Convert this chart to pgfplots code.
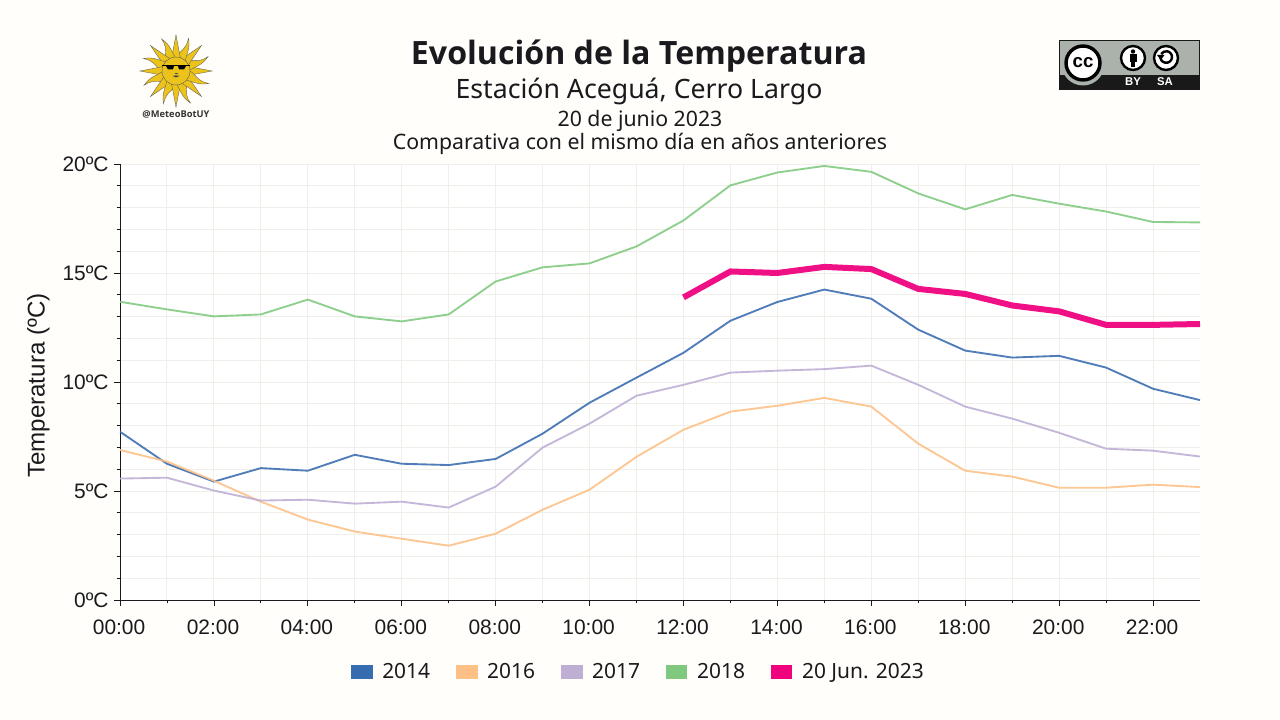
\documentclass[border=0pt]{standalone}
\usepackage{fontspec}
\setmainfont{Liberation Sans}
\newfontfamily\noto{Noto Sans}
\newfontfamily\notob{Open Sans}
\usepackage{pgfplots}
\pgfplotsset{compat=1.18}
\definecolor{pagebg}{HTML}{FFFEFA}
\definecolor{gridc}{HTML}{F0EFEA}
\definecolor{ink}{HTML}{1A1A1E}
\definecolor{c14}{HTML}{386CB0}
\definecolor{c16}{HTML}{FDC086}
\definecolor{c17}{HTML}{BEAED4}
\definecolor{c18}{HTML}{7FC97F}
\definecolor{c23}{HTML}{F0027F}
\definecolor{sunc}{HTML}{EBC31B}
\definecolor{ccgrey}{HTML}{AAB2AB}

\begin{document}
\begin{tikzpicture}[x=1pt,y=1pt]
\path[fill=pagebg] (0,0) rectangle (960,540);

\begin{axis}[
  at={(90pt,90pt)}, anchor=south west,
  scale only axis, width=810pt, height=327pt,
  xmin=0, xmax=23, ymin=0, ymax=20,
  axis background/.style={fill=white},
  axis x line*=bottom, axis y line*=left,
  axis line style={-, color=ink, line width=0.7pt},
  xtick={0,2,...,22},
  xticklabels={00:00,02:00,04:00,06:00,08:00,10:00,12:00,14:00,16:00,18:00,20:00,22:00},
  ytick={0,5,10,15,20},
  yticklabels={0ºC,5ºC,10ºC,15ºC,20ºC},
  minor x tick num=1, minor y tick num=4,
  grid=both,
  major grid style={gridc, line width=0.7pt},
  minor grid style={gridc, line width=0.7pt},
  tick style={ink, line width=0.6pt},
  major tick length=4.5pt, minor tick length=2.5pt,
  tick align=outside,
  tick label style={font=\fontsize{15.7}{18}\selectfont, text=ink},
  x tick label style={yshift=-7pt, xshift=-0.7pt},
  y tick label style={xshift=-0.5pt},
  ylabel={Temperatura (ºC)},
  ylabel style={font=\fontsize{18.1}{22}\selectfont, text=ink, at={(axis description cs:-0.0755,0.4915)}, anchor=center},
  legend columns=5,
  legend style={at={(0.4772,-0.165)}, anchor=center, draw=none, fill=none,
    font=\noto\fontsize{15.7}{18}\selectfont, text=ink,
    /tikz/every even column/.append style={column sep=12.3pt}},
  legend image code/.code={\draw[#1,line width=10.5pt,opacity=1] (0pt,0pt) -- (16pt,0pt);},
]
\addplot[c14, line width=1.4pt, opacity=0.88] coordinates {
(0,7.72)(1,6.25)(2,5.43)(3,6.05)(4,5.93)(5,6.66)(6,6.25)(7,6.19)(8,6.47)(9,7.63)(10,9.05)(11,10.2)
(12,11.34)(13,12.81)(14,13.67)(15,14.24)(16,13.82)(17,12.4)(18,11.44)(19,11.12)(20,11.2)(21,10.66)(22,9.69)(23,9.17)};
\addlegendentry{2014}
\addplot[c16, line width=1.4pt, opacity=0.88] coordinates {
(0,6.88)(1,6.35)(2,5.47)(3,4.51)(4,3.69)(5,3.14)(6,2.81)(7,2.49)(8,3.04)(9,4.14)(10,5.06)(11,6.57)
(12,7.81)(13,8.64)(14,8.91)(15,9.27)(16,8.87)(17,7.17)(18,5.93)(19,5.66)(20,5.15)(21,5.15)(22,5.29)(23,5.18)};
\addlegendentry{2016}
\addplot[c17, line width=1.4pt, opacity=0.88] coordinates {
(0,5.57)(1,5.61)(2,5.02)(3,4.56)(4,4.6)(5,4.42)(6,4.51)(7,4.24)(8,5.2)(9,6.99)(10,8.09)(11,9.37)
(12,9.87)(13,10.43)(14,10.52)(15,10.59)(16,10.75)(17,9.87)(18,8.87)(19,8.32)(20,7.67)(21,6.94)(22,6.85)(23,6.58)};
\addlegendentry{2017}
\addplot[c18, line width=1.4pt, opacity=0.88] coordinates {
(0,13.68)(1,13.33)(2,13.01)(3,13.1)(4,13.78)(5,13.01)(6,12.78)(7,13.1)(8,14.61)(9,15.26)(10,15.44)(11,16.22)
(12,17.41)(13,19.02)(14,19.61)(15,19.91)(16,19.64)(17,18.65)(18,17.92)(19,18.58)(20,18.18)(21,17.82)(22,17.34)(23,17.32)};
\addlegendentry{2018}
\addplot[c23, line width=4.5pt, opacity=0.94] coordinates {
(12,13.88)(13,15.07)(14,15.0)(15,15.28)(16,15.18)(17,14.27)(18,14.04)(19,13.51)(20,13.24)(21,12.62)(22,12.62)(23,12.66)};
\addlegendentry{20 Jun. 2023}
\end{axis}

% titles and logos, in reference pixels
\begin{scope}[shift={(0,540)},x=0.75pt,y=-0.75pt]
\node[anchor=base,text=ink,font=\notob\bfseries\fontsize{24.1}{28}\selectfont] at (639,65) {Evolución de la Temperatura};
\node[anchor=base,text=ink,font=\noto\fontsize{20}{24}\selectfont] at (639,99) {Estación Aceguá, Cerro Largo};
\node[anchor=base,text=ink,font=\noto\fontsize{15.95}{18}\selectfont] at (640,127) {20 de junio 2023};
\node[anchor=base,text=ink,font=\noto\fontsize{15.95}{18}\selectfont] at (640,150) {Comparativa con el mismo día en años anteriores};

% sun
\begin{scope}[shift={(176,71)}]
\foreach \a in {0,45,...,315}{
  \fill[sunc,draw=black!65,line width=0.25pt,rotate=\a] (10,-5) -- (36,0) -- (10,5) -- cycle;
  \fill[sunc,draw=black!65,line width=0.25pt,rotate=\a+22.5]
    (10,-5) .. controls (18,-7) and (22,2) .. (35,-1) .. controls (26,5) and (20,3) .. (10,5) -- cycle;
}
\fill[sunc,draw=black!65,line width=0.3pt] (0,0) circle (14);
\fill[black] (-14,-6) rectangle (14,-4.6);
\fill[black] (-10,-5) -- (-2,-5) -- (-3,-1.5) -- (-8,-1.5) -- cycle;
\fill[black] (2,-5) -- (10,-5) -- (8,-1.5) -- (3,-1.5) -- cycle;
\draw[black!70,line width=0.4pt] (-1.5,2) -- (1.5,2);
\fill[black!70] (-3.5,5) .. controls (-1,4) and (1,4) .. (3.5,5) .. controls (1,7) and (-1,7) .. (-3.5,5) -- cycle;
\end{scope}
\node[anchor=base,text=black!80,font=\notob\bfseries\fontsize{7}{8}\selectfont] at (176,118) {@MeteoBotUY};

% cc by-sa badge
\fill[ccgrey] (1059,40) rectangle (1200,75);
\fill[black!90] (1059,75) rectangle (1200,89);
\draw[black!90,line width=0.5pt] (1059.5,40.5) rectangle (1199.5,89);
\fill[ccgrey] (1083,64) circle (21.5);
\fill[white] (1083,63) circle (18.5);
\draw[black,line width=2.6pt] (1083,63) circle (17);
\node[text=black,font=\bfseries\fontsize{14}{14}\selectfont] at (1083,63) {cc};
\fill[white] (1133,58) circle (12.5);
\draw[black,line width=1.8pt] (1133,58) circle (12);
\fill[black] (1133,51.5) circle (2.2);
\fill[black] (1129.5,54.5) rectangle (1136.5,62);
\fill[black] (1131.2,62) rectangle (1134.8,67);
\fill[white] (1166,58) circle (12.5);
\draw[black,line width=1.8pt] (1166,58) circle (12);
\draw[black,line width=1.8pt] (1160.5,56) arc[start angle=190,end angle=-150,radius=5.8];
\fill[black] (1157,55) -- (1164.5,55) -- (1160.8,60) -- cycle;
\node[text=white,font=\bfseries\fontsize{8.5}{9}\selectfont] at (1133,82) {BY};
\node[text=white,font=\bfseries\fontsize{8.5}{9}\selectfont] at (1165,82) {SA};
\end{scope}
\end{tikzpicture}
\end{document}
